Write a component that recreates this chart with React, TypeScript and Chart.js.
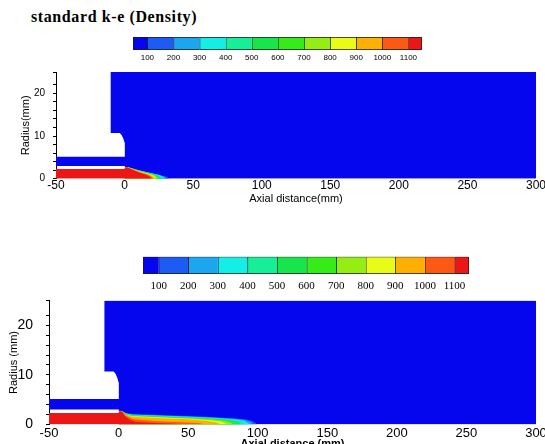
import { useEffect, useRef } from "react";
import { Chart, registerables } from "chart.js";

Chart.register(...registerables);
Chart.defaults.color = "#000";
Chart.defaults.font.family = "'Liberation Sans', Arial, sans-serif";

// Density bands: colour of each band, from below 100 up to above 1100
const bandColors = [
  "#0606ee", "#1c5cf2", "#1ca6f0", "#14eee6", "#16ee98", "#18e44c",
  "#36ec18", "#94ee14", "#e8fc18", "#fcb004", "#fc5a14", "#ec1616",
];
const bandLabels = [100, 200, 300, 400, 500, 600, 700, 800, 900, 1000, 1100];
// relative width of each colour-bar cell (end cells are half cells)
const upperBarWidths = [0.55, 1, 1, 1, 1, 1, 1, 1, 1, 1, 1, 0.52];
const lowerBarWidths = [0.53, 1, 1, 1, 1, 1, 1, 1, 1, 1, 1, 0.49];

// Burner geometry (mm): chamber, bluff-body edge, co-flow channel
const chamberOutline = [[0, 25], [300, 25]];
const bluffBodyEdge = [[-10.3, 10.7], [-3.6, 10.7], [-2.3, 10.3], [-1, 9.5], [0, 8.5], [0.5, 8.5]];
const coflowChannel = [[-50, 5.15], [0.5, 5.15]];
const coflowFloor = 3.0;

// Iso-density envelopes (100 ... 1100), upper panel: standard k-e
const upperContours = [
  [[0, 2.3], [1, 2.76], [2.5, 2.72], [10, 2.05], [20, 1.3], [27, 0.75], [30.5, 0.45], [32.5, 0.12], [33, 0]],
  [[0, 2.3], [1, 2.75], [2.5, 2.7], [10, 2.0], [20, 1.25], [26, 0.8], [29.5, 0.4], [31, 0]],
  [[0, 2.3], [1, 2.74], [2.5, 2.68], [10, 1.97], [20, 1.2], [25, 0.85], [28, 0.45], [29.5, 0]],
  [[0, 2.3], [1, 2.73], [2.5, 2.67], [10, 1.94], [20, 1.15], [24, 0.85], [27, 0.35], [28, 0]],
  [[0, 2.3], [1, 2.72], [2.5, 2.66], [10, 1.9], [20, 1.1], [23.5, 0.8], [26.5, 0]],
  [[0, 2.3], [1, 2.72], [2.5, 2.65], [10, 1.87], [20, 1.05], [23, 0.75], [25.5, 0]],
  [[0, 2.3], [1, 2.71], [2.5, 2.64], [10, 1.84], [20, 1.0], [22, 0.75], [24.5, 0]],
  [[0, 2.3], [1, 2.71], [2.5, 2.63], [10, 1.8], [19, 1.0], [21, 0.75], [23.5, 0]],
  [[0, 2.3], [1, 2.7], [2.5, 2.62], [10, 1.75], [18, 1.0], [20, 0.7], [22.5, 0]],
  [[0, 2.3], [1, 2.7], [2.5, 2.6], [10, 1.65], [17, 0.95], [19, 0.6], [21, 0]],
  [[-50, 2.3], [0, 2.3], [1, 2.68], [2.5, 2.55], [10, 1.5], [16, 0.85], [18.5, 0.45], [20, 0]],
];

// Iso-density envelopes (100 ... 1100), lower panel
const lowerContours = [
  [[0, 2.3], [1, 2.76], [2.5, 2.72], [5, 2.3], [10, 2.1], [30, 1.9], [50, 1.7], [70, 1.45], [85, 1.2], [92, 1.0], [96, 0.7], [98.5, 0.3], [99.5, 0]],
  [[0, 2.3], [1, 2.75], [2.5, 2.7], [5, 2.25], [10, 2.03], [30, 1.83], [50, 1.63], [70, 1.38], [85, 1.12], [91, 0.9], [95, 0.5], [96.5, 0]],
  [[0, 2.3], [1, 2.74], [2.5, 2.68], [5, 2.2], [10, 1.97], [30, 1.76], [50, 1.56], [70, 1.3], [84, 1.03], [90, 0.75], [93, 0.3], [94, 0]],
  [[0, 2.3], [1, 2.73], [2.5, 2.67], [5, 2.15], [10, 1.9], [30, 1.69], [50, 1.48], [70, 1.22], [82, 0.95], [88, 0.6], [91, 0]],
  [[0, 2.3], [1, 2.72], [2.5, 2.66], [5, 2.1], [10, 1.84], [30, 1.62], [50, 1.4], [70, 1.13], [80, 0.88], [86, 0.5], [88, 0]],
  [[0, 2.3], [1, 2.72], [2.5, 2.65], [5, 2.05], [10, 1.78], [30, 1.55], [50, 1.33], [70, 1.04], [78, 0.8], [83, 0.45], [85, 0]],
  [[0, 2.3], [1, 2.71], [2.5, 2.64], [5, 2.0], [10, 1.72], [30, 1.48], [50, 1.25], [68, 0.95], [76, 0.7], [81, 0.3], [82, 0]],
  [[0, 2.3], [1, 2.71], [2.5, 2.63], [5, 1.95], [10, 1.65], [30, 1.4], [50, 1.17], [66, 0.87], [74, 0.55], [78, 0]],
  [[0, 2.3], [1, 2.7], [2.5, 2.62], [4, 2.1], [10, 1.55], [30, 1.28], [50, 1.05], [62, 0.78], [70, 0.45], [74, 0]],
  [[0, 2.3], [1, 2.7], [2.5, 2.6], [5, 1.8], [10, 1.1], [25, 0.7], [45, 0.45], [58, 0.25], [63, 0]],
  [[-50, 2.3], [0, 2.3], [1, 2.68], [2.5, 2.55], [5, 1.6], [8, 1.0], [12, 0.55], [25, 0.3], [40, 0.15], [46, 0]],
];

const toXY = (pts: number[][]) => pts.map(([x, y]) => ({ x, y }));

function area(pts: number[][], color: string, fill: any, order: number) {
  return {
    data: toXY(pts),
    backgroundColor: color,
    borderColor: "rgba(0,0,0,0)",
    borderWidth: 0,
    pointRadius: 0,
    tension: 0,
    fill,
    order,
  };
}

type BarSpec = {
  padLeft: number;
  padRight: number;
  padTop: number;
  axisHeight: number;
  labelPad: number;
  font: any;
};

function makeColorbar(canvas: HTMLCanvasElement, widths: number[], s: BarSpec) {
  const edges: number[] = [];
  let acc = 0;
  widths.forEach((w, i) => {
    acc += w;
    if (i < widths.length - 1) edges.push(acc);
  });
  const last = widths.length - 1;
  return new Chart(canvas, {
    type: "bar",
    data: {
      labels: [""],
      datasets: widths.map((w, i) => ({
        data: [w],
        backgroundColor: bandColors[i],
        borderColor: "#1a1a1a",
        borderWidth: { top: 1, bottom: 1, left: 1, right: i === last ? 1 : 0 },
        borderSkipped: false,
        barPercentage: 1,
        categoryPercentage: 1,
      })),
    },
    options: {
      animation: false,
      responsive: false,
      indexAxis: "y",
      layout: { padding: { left: s.padLeft, right: s.padRight, top: s.padTop, bottom: 0 } },
      plugins: { legend: { display: false }, tooltip: { enabled: false } },
      scales: {
        x: {
          stacked: true,
          min: 0,
          max: acc,
          grid: { display: false },
          border: { display: false },
          afterBuildTicks: (sc: any) => {
            sc.ticks = edges.map((v) => ({ value: v }));
          },
          ticks: {
            autoSkip: false,
            maxRotation: 0,
            padding: s.labelPad,
            font: s.font,
            callback: (_v: any, i: number) => String(bandLabels[i]),
          },
          afterFit: (sc: any) => {
            sc.height = s.axisHeight;
            sc.paddingLeft = 0;
            sc.paddingRight = 0;
          },
        },
        y: { stacked: true, display: false },
      },
    } as any,
  });
}

type PanelSpec = {
  padTop: number;
  padRight: number;
  yAxisWidth: number;
  xAxisHeight: number;
  xTickFont: any;
  yTickFont: any;
  xTickPad: number;
  yTickPad: number;
  xTitle: string;
  yTitle: string;
  xTitleFont: any;
  yTitleFont: any;
  xTitlePad: number;
  yTitlePad: number;
};

function makePanel(canvas: HTMLCanvasElement, contours: number[][][], s: PanelSpec) {
  const field = bandColors[0];
  const datasets = [
    area(chamberOutline, field, "origin", 30),
    area(bluffBodyEdge, field, "end", 29),
    area(coflowChannel, field, { value: coflowFloor }, 28),
    ...contours.map((c, i) => area(c, bandColors[i + 1], "origin", 20 - i)),
  ];
  return new Chart(canvas, {
    type: "line",
    data: { datasets },
    options: {
      animation: false,
      responsive: false,
      layout: { padding: { left: 0, right: s.padRight, top: s.padTop, bottom: 0 } },
      plugins: { legend: { display: false }, tooltip: { enabled: false } },
      scales: {
        x: {
          type: "linear",
          min: -50,
          max: 300,
          ticks: { stepSize: 50, autoSkip: false, maxRotation: 0, padding: s.xTickPad, font: s.xTickFont },
          grid: { display: false },
          border: { display: false },
          title: { display: true, text: s.xTitle, font: s.xTitleFont, padding: { top: 0, bottom: s.xTitlePad } },
          afterFit: (sc: any) => {
            sc.height = s.xAxisHeight;
            sc.paddingLeft = 0;
            sc.paddingRight = 0;
          },
        },
        y: {
          min: 0,
          max: 25,
          ticks: {
            stepSize: 2,
            autoSkip: false,
            padding: s.yTickPad,
            font: s.yTickFont,
            callback: (v: any) => (Number(v) % 10 === 0 ? String(v) : ""),
          },
          grid: { drawOnChartArea: false, drawTicks: true, tickLength: 3, color: "#000" },
          border: { display: true, color: "#000", width: 1 },
          title: { display: true, text: s.yTitle, font: s.yTitleFont, padding: { top: s.yTitlePad, bottom: 0 } },
          afterFit: (sc: any) => {
            sc.width = s.yAxisWidth;
            sc.paddingTop = 0;
            sc.paddingBottom = 0;
          },
        },
      },
    } as any,
  });
}

const abs = (left: number, top: number, w: number, h: number) => ({
  position: "absolute" as const,
  left,
  top,
  width: w,
  height: h,
});

export default function App() {
  const upperBar = useRef<HTMLCanvasElement>(null);
  const upperPlot = useRef<HTMLCanvasElement>(null);
  const lowerBar = useRef<HTMLCanvasElement>(null);
  const lowerPlot = useRef<HTMLCanvasElement>(null);

  useEffect(() => {
    const charts = [
      makeColorbar(upperBar.current!, upperBarWidths, {
        padLeft: 133,
        padRight: 123,
        padTop: 7,
        axisHeight: 20,
        labelPad: -5,
        font: { size: 8 },
      }),
      makePanel(upperPlot.current!, upperContours, {
        padTop: 12,
        padRight: 9,
        yAxisWidth: 56,
        xAxisHeight: 26.3,
        xTickFont: { size: 12 },
        yTickFont: { size: 10 },
        xTickPad: -8,
        yTickPad: 8,
        xTitle: "Axial distance(mm)",
        yTitle: "Radius(mm)",
        xTitleFont: { size: 11 },
        yTitleFont: { size: 11 },
        xTitlePad: -0.5,
        yTitlePad: 19,
      }),
      makeColorbar(lowerBar.current!, lowerBarWidths, {
        padLeft: 143,
        padRight: 76,
        padTop: 11.7,
        axisHeight: 21,
        labelPad: -2.6,
        font: { size: 11, family: "'Liberation Serif', 'Times New Roman', serif" },
      }),
      makePanel(lowerPlot.current!, lowerContours, {
        padTop: 10.5,
        padRight: 9,
        yAxisWidth: 49,
        xAxisHeight: 35.5,
        xTickFont: { size: 13 },
        yTickFont: { size: 14 },
        xTickPad: -7,
        yTickPad: 13,
        xTitle: "Axial distance (mm)",
        yTitle: "Radius (mm)",
        xTitleFont: { size: 11, family: "'Liberation Sans Narrow', 'Liberation Sans', Arial, sans-serif", weight: "bold" },
        yTitleFont: { size: 11, family: "'Liberation Sans Narrow', 'Liberation Sans', Arial, sans-serif" },
        xTitlePad: 9,
        yTitlePad: 7.4,
      }),
    ];
    return () => charts.forEach((c) => c.destroy());
  }, []);

  return (
    <div
      style={{
        position: "fixed",
        left: 0,
        top: 0,
        width: 545,
        height: 444,
        overflow: "hidden",
        background: "#fff",
      }}
    >
      <div
        style={{
          position: "absolute",
          left: 31,
          top: 9,
          font: "bold 16px 'Liberation Serif', 'Times New Roman', serif",
          lineHeight: "16px",
          letterSpacing: "0.6px",
          whiteSpace: "nowrap",
        }}
      >
        standard k-e (Density)
      </div>
      <canvas ref={upperBar} width={545} height={40} style={abs(0, 30, 545, 40)} />
      <canvas ref={upperPlot} width={545} height={145} style={abs(0, 60, 545, 145)} />
      <canvas ref={lowerBar} width={545} height={50} style={abs(0, 245, 545, 50)} />
      <canvas ref={lowerPlot} width={545} height={170} style={abs(0, 290, 545, 170)} />
    </div>
  );
}
